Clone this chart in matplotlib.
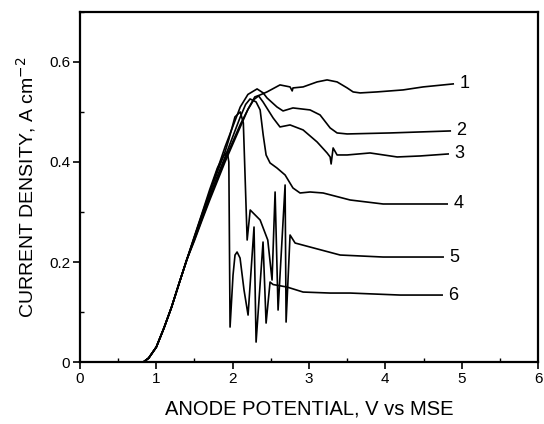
import numpy as np
import matplotlib
matplotlib.use('Agg')
import matplotlib.pyplot as plt
from matplotlib.ticker import MultipleLocator

# common rising branch (V vs MSE, A cm^-2)
rise_x = [0.83, 0.9, 1.0, 1.1, 1.2, 1.3, 1.4]
rise_y = [0.0, 0.008, 0.03, 0.068, 0.11, 0.158, 0.205]

c1_x = [1.5, 1.6, 1.7, 1.8, 1.9, 2.0, 2.1, 2.2, 2.29, 2.36, 2.45, 2.62, 2.752, 2.78, 2.79,
        2.923, 3.106, 3.237, 3.368, 3.5, 3.578, 3.67, 3.89, 4.233, 4.495, 4.889]
c1_y = [0.243, 0.284, 0.324, 0.362, 0.40, 0.435, 0.47, 0.505, 0.53, 0.534, 0.54, 0.554, 0.55, 0.542, 0.548,
        0.55, 0.56, 0.564, 0.56, 0.548, 0.54, 0.538, 0.54, 0.544, 0.55, 0.556]

c2_x = [1.5, 1.6, 1.7, 1.8, 1.9, 2.0, 2.1, 2.2, 2.32, 2.40, 2.45, 2.58, 2.66, 2.79, 3.014,
        3.145, 3.277, 3.368, 3.5, 4.063, 4.85]
c2_y = [0.25, 0.296, 0.34, 0.385, 0.43, 0.47, 0.51, 0.535, 0.546, 0.538, 0.528, 0.51, 0.502, 0.508, 0.504,
        0.494, 0.468, 0.458, 0.456, 0.458, 0.462]

c3_x = [1.5, 1.6, 1.7, 1.8, 1.9, 2.0, 2.1, 2.2, 2.28, 2.34, 2.398, 2.53, 2.62, 2.752, 2.923,
        3.106, 3.237, 3.277, 3.29, 3.316, 3.368, 3.5, 3.80, 4.155, 4.456, 4.823]
c3_y = [0.245, 0.287, 0.328, 0.366, 0.405, 0.44, 0.475, 0.505, 0.525, 0.532, 0.52, 0.488, 0.47, 0.474, 0.464,
        0.44, 0.418, 0.41, 0.396, 0.428, 0.414, 0.414, 0.418, 0.41, 0.412, 0.416]

c4_x = [1.5, 1.6, 1.7, 1.8, 1.9, 2.0, 2.1, 2.17, 2.228, 2.307, 2.36, 2.40, 2.438, 2.49, 2.58,
        2.687, 2.79, 2.883, 3.014, 3.185, 3.539, 3.971, 4.81]
c4_y = [0.247, 0.29, 0.332, 0.372, 0.41, 0.45, 0.49, 0.515, 0.526, 0.52, 0.504, 0.454, 0.414, 0.398, 0.388,
        0.374, 0.348, 0.338, 0.34, 0.338, 0.324, 0.316, 0.316]

c5_x = [1.5, 1.6, 1.7, 1.8, 1.9, 1.95, 2.03, 2.1, 2.14, 2.19, 2.23, 2.36, 2.46, 2.516, 2.556,
        2.595, 2.687, 2.70, 2.752, 2.818, 3.014, 3.408, 3.971, 4.757]
c5_y = [0.25, 0.294, 0.338, 0.38, 0.42, 0.445, 0.49, 0.50, 0.478, 0.244, 0.304, 0.284, 0.244, 0.164, 0.34,
        0.104, 0.354, 0.08, 0.254, 0.238, 0.23, 0.214, 0.21, 0.21]

c6_x = [1.5, 1.6, 1.7, 1.8, 1.88, 1.93, 1.95, 1.966, 2.005, 2.031, 2.058, 2.097, 2.149, 2.202, 2.28,
        2.307, 2.398, 2.438, 2.49, 2.53, 2.713, 2.923, 3.277, 3.539, 4.194, 4.744]
c6_y = [0.252, 0.298, 0.345, 0.388, 0.412, 0.42, 0.40, 0.07, 0.174, 0.214, 0.22, 0.208, 0.144, 0.094, 0.27,
        0.04, 0.24, 0.078, 0.16, 0.155, 0.15, 0.14, 0.138, 0.138, 0.134, 0.134]

curves = [(c1_x, c1_y), (c2_x, c2_y), (c3_x, c3_y), (c4_x, c4_y), (c5_x, c5_y), (c6_x, c6_y)]
labels = ['1', '2', '3', '4', '5', '6']

plt.rcParams['font.family'] = ['Liberation Sans', 'DejaVu Sans']

fig = plt.figure(figsize=(5.44, 4.24), dpi=100)
ax = fig.add_axes([0.147, 0.146, 0.842, 0.826])

for (xs, ys), lab in zip(curves, labels):
    x = rise_x + xs
    y = rise_y + ys
    ax.plot(x, y, color='black', lw=1.2)
    ax.text(x[-1] + 0.08, y[-1], lab, fontsize=13, va='center', ha='left')

ax.set_xlim(0, 6)
ax.set_ylim(0, 0.7)
ax.xaxis.set_major_locator(MultipleLocator(1))
ax.xaxis.set_minor_locator(MultipleLocator(0.5))
ax.yaxis.set_minor_locator(MultipleLocator(0.1))
ax.set_yticks([0, 0.2, 0.4, 0.6])
ax.set_yticklabels(['0', '0.2', '0.4', '0.6'])
ax.tick_params(which='major', direction='out', length=5, width=1.2, labelsize=11, pad=2)
ax.tick_params(which='minor', direction='in', length=3, width=1)
for s in ax.spines.values():
    s.set_linewidth(1.6)

ax.set_xlabel('ANODE POTENTIAL, V vs MSE', fontsize=14.5, labelpad=10)
ax.set_ylabel('CURRENT DENSITY, A cm$^{-2}$', fontsize=14, labelpad=8)

plt.savefig('out.png', dpi=100)
